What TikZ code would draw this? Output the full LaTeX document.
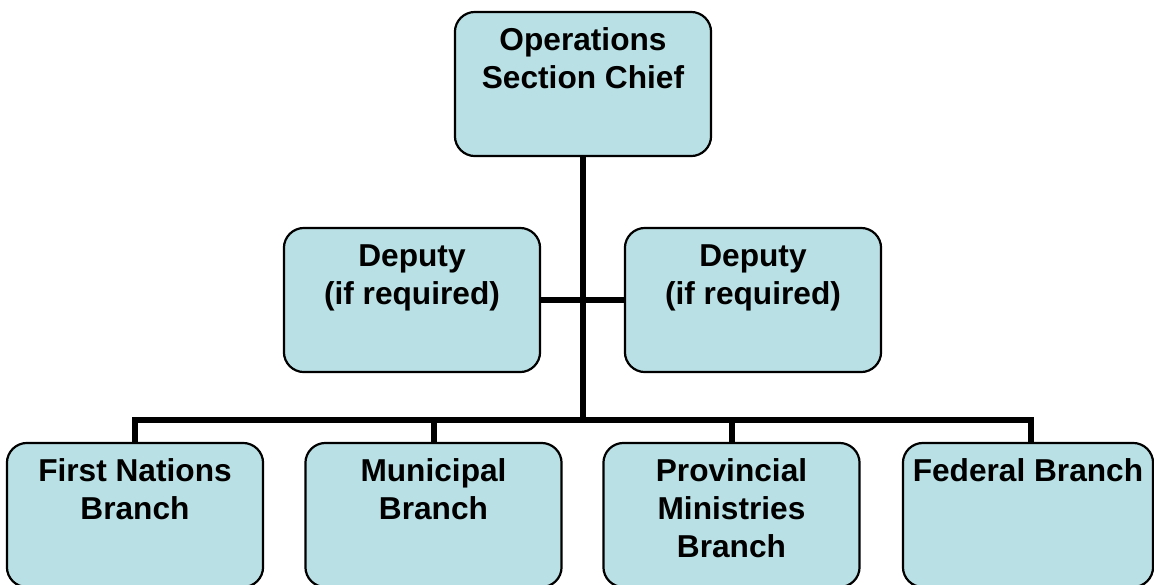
\documentclass[tikz,border=0pt]{standalone}
\usepackage{fontspec}
\setmainfont{Liberation Sans}
\usepackage{xcolor}

\definecolor{boxfill}{HTML}{B9E0E4}
\tikzset{
    orgbox/.style={draw, fill=boxfill, line width=0.022cm, rounded corners=0.2cm,
        minimum width=2.56cm, minimum height=1.44cm, inner sep=0pt, font=\bfseries},
    link/.style={line width=0.06cm}
}
\newcommand{\boxtext}[1]{\parbox[c][1.44cm][t]{2.46cm}{\centering\fontsize{9pt}{10.8pt}\selectfont\rule{0pt}{0.39cm}#1}}

\begin{document}
\begin{tikzpicture}[x=0.01cm, y=-0.01cm]
            \useasboundingbox (0,0) rectangle (1154,584);
            \node[orgbox] (chief) at (583,84) {\boxtext{Operations\\Section Chief}};
            \node[orgbox] (depL) at (412,300) {\boxtext{Deputy\\(if required)}};
            \node[orgbox] (depR) at (753,300) {\boxtext{Deputy\\(if required)}};
            \node[orgbox] (first) at (135,515) {\boxtext{First Nations\\Branch}};
            \node[orgbox] (muni) at (433.5,515) {\boxtext{Municipal\\Branch}};
            \node[orgbox] (prov) at (731.5,515) {\boxtext{Provincial\\Ministries\\Branch}};
            \node[orgbox, minimum width=2.5cm] (fed) at (1028,515) {\boxtext{Federal Branch}};
            \coordinate (hub) at (583,420);
            \draw[link]
                (chief.south) -- (hub)
                (depL.east) -- (depR.west)
                (first.north) |- (hub) -| ([xshift=0.03cm]fed.north)
                (muni.north) -- (muni.north |- hub)
                (prov.north) -- (prov.north |- hub);
        \end{tikzpicture}
\end{document}
